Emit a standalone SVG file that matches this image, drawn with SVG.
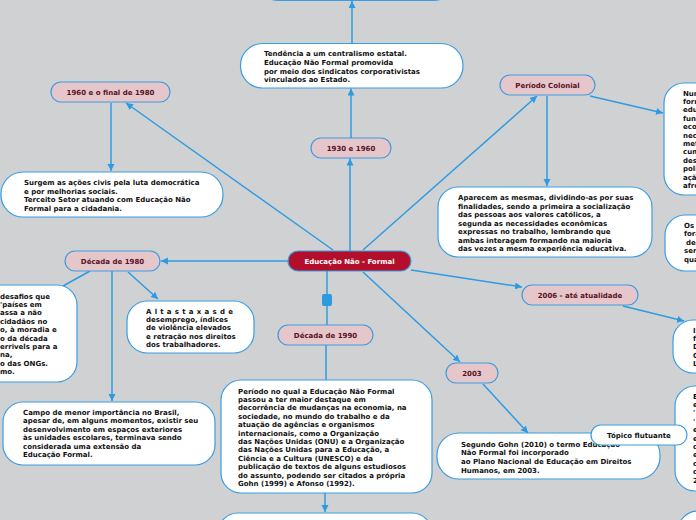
<svg xmlns="http://www.w3.org/2000/svg" width="696" height="520" viewBox="0 0 696 520">
<defs>
<marker id="ah" markerUnits="userSpaceOnUse" markerWidth="8" markerHeight="8" refX="7" refY="3.5" orient="auto">
<path d="M0,0 L7,3.5 L0,7 z" fill="#2d9be2"/>
</marker>
<style>
.c{stroke:#2d9be2;stroke-width:1.5;fill:none}
.a{marker-end:url(#ah)}
.topic{fill:#e4c6cb;stroke:#3a9de2;stroke-width:1.2}
.box{fill:#fff;stroke:#3a9de2;stroke-width:1.2}
.tt{font-family:"DejaVu Sans",Verdana,sans-serif;font-weight:bold;font-size:7px;fill:#5a1224;text-anchor:middle}
.bt{font-family:"DejaVu Sans",Verdana,sans-serif;font-weight:bold;font-size:7px;fill:#111}
</style>
</defs>
<rect width="696" height="520" fill="#d0d1d3"/>
<g id="connectors">
<line class="c a" x1="333" y1="250" x2="126" y2="103"/>
<line class="c a" x1="111" y1="103" x2="111" y2="171"/>
<line class="c a" x1="350" y1="251" x2="350" y2="158.5"/>
<line class="c a" x1="351" y1="138" x2="351" y2="88.5"/>
<line class="c a" x1="352" y1="43" x2="352" y2="1"/>
<line class="c a" x1="363" y1="250" x2="537" y2="96"/>
<line class="c a" x1="547" y1="96" x2="547" y2="186"/>
<line class="c a" x1="590" y1="96" x2="663" y2="113"/>
<line class="c a" x1="288" y1="261" x2="161" y2="261"/>
<line class="c" x1="90" y1="271" x2="63" y2="286"/>
<line class="c a" x1="112" y1="271" x2="112" y2="401"/>
<line class="c a" x1="128" y1="272" x2="158" y2="299"/>
<line class="c" x1="327" y1="271" x2="327" y2="325"/>
<rect x="322" y="294" width="10" height="12" rx="2" fill="#2d9be2"/>
<line class="c" x1="326" y1="345" x2="326" y2="380"/>
<line class="c a" x1="325" y1="493" x2="325" y2="512"/>
<line class="c a" x1="411" y1="270" x2="522" y2="287"/>
<line class="c a" x1="623" y1="306" x2="684" y2="321"/>
<line class="c a" x1="363" y1="272" x2="460" y2="362"/>
<line class="c a" x1="483" y1="384" x2="528" y2="433"/>
</g>
<g id="top-box"><rect class="box" x="260" y="-40" width="192" height="40.5" rx="18"/></g>
<g id="tendencia">
<rect class="box" x="240.5" y="43.5" width="222.5" height="44.5" rx="22"/>
<text class="bt" x="264" y="56"><tspan x="264">Tendência a um centralismo estatal.</tspan><tspan x="264" dy="8.8">Educação Não Formal promovida</tspan><tspan x="264" dy="8.8">por meio dos sindicatos corporativistas</tspan><tspan x="264" dy="8.8">vinculados ao Estado.</tspan></text>
</g>
<g id="n1930"><rect class="topic" x="311" y="138" width="80" height="20" rx="10"/><text class="tt" x="351" y="150.5">1930 e 1960</text></g>
<g id="n1960"><rect class="topic" x="51" y="82" width="119" height="20" rx="10"/><text class="tt" x="110.5" y="94.5">1960 e o final de 1980</text></g>
<g id="surgem">
<rect class="box" x="1" y="172" width="222" height="45" rx="22"/>
<text class="bt" x="24" y="185"><tspan x="24">Surgem as ações civis pela luta democrática</tspan><tspan x="24" dy="8.5">e por melhorias sociais.</tspan><tspan x="24" dy="8.5">Terceito Setor atuando com Educação Não</tspan><tspan x="24" dy="8.5">Formal para a cidadania.</tspan></text>
</g>
<g id="colonial"><rect class="topic" x="500" y="75" width="95" height="20" rx="10"/><text class="tt" x="547.5" y="87.5">Período Colonial</text></g>
<g id="aparecem">
<rect class="box" x="438" y="187" width="214" height="70" rx="20"/>
<text class="bt" x="458" y="200"><tspan x="458">Aparecem as mesmas, dividindo-as por suas</tspan><tspan x="458" dy="8.5">finalidades, sendo a primeira a socialização</tspan><tspan x="458" dy="8.5">das pessoas aos valores católicos, a</tspan><tspan x="458" dy="8.5">segunda as necessidades econômicas</tspan><tspan x="458" dy="8.5">expressas no trabalho, lembrando que</tspan><tspan x="458" dy="8.5">ambas interagem formando na maioria</tspan><tspan x="458" dy="8.5">das vezes a mesma experiência educativa.</tspan></text>
</g>
<g id="right1">
<rect class="box" x="664" y="83" width="60" height="112" rx="20"/>
<text class="bt" x="683" y="95.5"><tspan x="683">Num</tspan><tspan x="683" dy="8.4">form</tspan><tspan x="683" dy="8.4">edu</tspan><tspan x="683" dy="8.4">fun</tspan><tspan x="683" dy="8.4">eco</tspan><tspan x="683" dy="8.4">nec</tspan><tspan x="683" dy="8.4">met</tspan><tspan x="683" dy="8.4">cum</tspan><tspan x="683" dy="8.4">des</tspan><tspan x="683" dy="8.4">poli</tspan><tspan x="683" dy="8.4">açã</tspan><tspan x="683" dy="8.4">afro</tspan></text>
</g>
<g id="right2">
<rect class="box" x="665" y="215" width="60" height="56" rx="20"/>
<text class="bt" x="684" y="227.5"><tspan x="684">Os</tspan><tspan x="684" dy="8.5">fora</tspan><tspan x="686" dy="8.5">des</tspan><tspan x="684" dy="8.5">ser</tspan><tspan x="684" dy="8.5">qua</tspan></text>
</g>
<g id="n1980"><rect class="topic" x="65" y="251" width="95" height="20" rx="10"/><text class="tt" x="112.5" y="263.5">Década de 1980</text></g>
<g id="left1980">
<rect class="box" x="-40" y="285" width="117" height="97" rx="20"/>
<text class="bt" x="0" y="298.5"><tspan x="0">desafios que</tspan><tspan x="0" dy="8.4">'países em</tspan><tspan x="0" dy="8.4">assa a não</tspan><tspan x="0" dy="8.4">cidadãos no</tspan><tspan x="0" dy="8.4">o, à moradia e</tspan><tspan x="0" dy="8.4">o da década</tspan><tspan x="0" dy="8.4">errivels para a</tspan><tspan x="0" dy="8.4">na,</tspan><tspan x="0" dy="8.4">o das ONGs.</tspan><tspan x="0" dy="8.4">mo.</tspan></text>
</g>
<g id="altas">
<rect class="box" x="127" y="301" width="127" height="52" rx="20"/>
<text class="bt" x="146" y="313.5"><tspan x="146" letter-spacing="0.4">A l t a s t a x a s d e</tspan><tspan x="146" dy="8.4">desemprego, índices</tspan><tspan x="146" dy="8.4">de violência elevados</tspan><tspan x="146" dy="8.4">e retração nos direitos</tspan><tspan x="146" dy="8.4">dos trabalhadores.</tspan></text>
</g>
<g id="campo">
<rect class="box" x="3" y="402" width="212" height="63" rx="20"/>
<text class="bt" x="23" y="414.5"><tspan x="23">Campo de menor importância no Brasil,</tspan><tspan x="23" dy="8.5">apesar de, em alguns momentos, existir seu</tspan><tspan x="23" dy="8.5">desenvolvimento em espaços exteriores</tspan><tspan x="23" dy="8.5">às unidades escolares, terminava sendo</tspan><tspan x="23" dy="8.5">considerada uma extensão da</tspan><tspan x="23" dy="8.5">Educação Formal.</tspan></text>
</g>
<g id="central"><rect x="288" y="251" width="123" height="20" rx="10" fill="#b30f2c" stroke="#3a9de2" stroke-width="1.2"/><text class="tt" style="fill:#fff" x="349.5" y="263.5">Educação Não - Formal</text></g>
<g id="n1990"><rect class="topic" x="278" y="325" width="95" height="20" rx="10"/><text class="tt" x="325.5" y="337.5">Década de 1990</text></g>
<g id="periodo">
<rect class="box" x="221" y="380" width="211" height="113" rx="20"/>
<text class="bt" x="238" y="393.5"><tspan x="238">Período no qual a Educação Não Formal</tspan><tspan x="238" dy="8.4">passou a ter maior destaque em</tspan><tspan x="238" dy="8.4">decorrência de mudanças na economia, na</tspan><tspan x="238" dy="8.4">sociedade, no mundo do trabalho e da</tspan><tspan x="238" dy="8.4">atuação de agências e organismos</tspan><tspan x="238" dy="8.4">internacionais, como a Organização</tspan><tspan x="238" dy="8.4">das Nações Unidas (ONU) e a Organização</tspan><tspan x="238" dy="8.4">das Nações Unidas para a Educação, a</tspan><tspan x="238" dy="8.4">Ciência e a Cultura (UNESCO) e da</tspan><tspan x="238" dy="8.4">publicação de textos de alguns estudiosos</tspan><tspan x="238" dy="8.4">do assunto, podendo ser citados a própria</tspan><tspan x="238" dy="8.4">Gohn (1999) e Afonso (1992).</tspan></text>
</g>
<g id="bottom-box"><rect class="box" x="218" y="513" width="214" height="40" rx="20"/></g>
<g id="n2006"><rect class="topic" x="522" y="285" width="116" height="20" rx="10"/><text class="tt" x="580" y="297.5">2006 - até atualidade</text></g>
<g id="right3">
<rect class="box" x="673" y="320" width="60" height="53" rx="20"/>
<text class="bt" x="693" y="332.5"><tspan x="693">I</tspan><tspan x="693" dy="8.4">f</tspan><tspan x="693" dy="8.4">D</tspan><tspan x="693" dy="8.4">C</tspan><tspan x="693" dy="8.4">L</tspan></text>
</g>
<g id="n2003"><rect class="topic" x="446" y="363" width="52" height="20" rx="10"/><text class="tt" x="472" y="375.5">2003</text></g>
<g id="segundo">
<rect class="box" x="437" y="433" width="223" height="46" rx="22"/>
<text class="bt" x="461" y="446.5"><tspan x="461">Segundo Gohn (2010) o termo Educação</tspan><tspan x="461" dy="8.7">Não Formal foi incorporado</tspan><tspan x="461" dy="8.7">ao Plano Nacional de Educação em Direitos</tspan><tspan x="461" dy="8.7">Humanos, em 2003.</tspan></text>
</g>
<g id="right4">
<rect class="box" x="675" y="386" width="60" height="105" rx="20"/>
<text class="bt" x="693" y="398.5"><tspan x="693">E</tspan><tspan x="693" dy="8.4">e</tspan><tspan x="693" dy="8.4">'</tspan><tspan x="693" dy="8.4">'</tspan><tspan x="693" dy="8.4">e</tspan><tspan x="693" dy="8.4">e</tspan><tspan x="693" dy="8.4">c</tspan><tspan x="693" dy="8.4">e</tspan><tspan x="693" dy="8.4">c</tspan><tspan x="693" dy="8.4">c</tspan><tspan x="693" dy="8.4">2</tspan></text>
</g>
<g id="right5"><rect class="box" x="678" y="511" width="60" height="40" rx="20"/></g>
<g id="topico"><rect class="box" x="591" y="425" width="96" height="20" rx="10"/><text class="bt" text-anchor="middle" x="639" y="437.5">Tópico flutuante</text></g>
</svg>
